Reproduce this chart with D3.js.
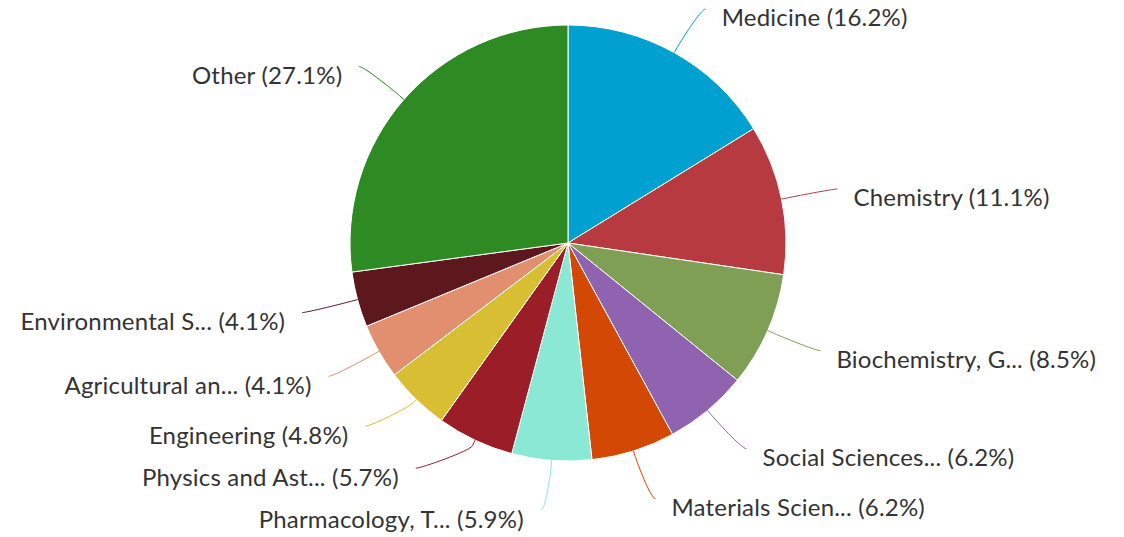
<!DOCTYPE html>
<html>
<head>
<meta charset="utf-8">
<script src="https://cdn.jsdelivr.net/npm/d3@7"></script>
<style>
  body { margin: 0; background: #fff; }
  text { font-family: Lato, "Open Sans", sans-serif; }
</style>
</head>
<body>
<svg id="chart" width="1124" height="537"></svg>
<script>
// Data
var categories = ["Medicine", "Chemistry", "Biochemistry, G...", "Social Sciences...", "Materials Scien...",
  "Pharmacology, T...", "Physics and Ast...", "Engineering", "Agricultural an...", "Environmental S...", "Other"];
var shares = [16.2, 11.1, 8.5, 6.2, 6.2, 5.9, 5.7, 4.8, 4.1, 4.1, 27.1];
var colors = ["#00a0d1", "#b83a41", "#7f9f55", "#9063b0", "#d34805", "#8ae8d5",
  "#9b1d28", "#d8be33", "#e18f6e", "#5c181c", "#2e8a22"];

// Layout
var width = 1124, height = 537;
var cx = 568, cy = 243, radius = 218;
var labelDistance = 50, breakDistance = 6, minGap = 42;

var svg = d3.select("#chart");

var pie = d3.pie().sort(null).value(function (d) { return d; });
var arcs = pie(shares);

var arc = d3.arc().innerRadius(0).outerRadius(radius);

var g = svg.append("g").attr("transform", "translate(" + cx + "," + cy + ")");

g.selectAll("path.slice")
  .data(arcs)
  .enter().append("path")
  .attr("class", "slice")
  .attr("d", arc)
  .attr("fill", function (d, i) { return colors[i]; })
  .attr("stroke", "#fff")
  .attr("stroke-width", 1);

//** Label placement, similar to the usual pie connector logic */
var R = radius + labelDistance;
var labels = arcs.map(function (d, i) {
  var a = (d.startAngle + d.endAngle) / 2;
  return {
    i: i,
    angle: a,
    left: a > Math.PI,
    y: -R * Math.cos(a)
  };
});

// push labels apart on the left side, bottom up
var leftSide = labels.filter(function (l) { return l.left; })
  .sort(function (a, b) { return b.y - a.y; });
for (var k = 1; k < leftSide.length; k++) {
  leftSide[k].y = Math.min(leftSide[k].y, leftSide[k - 1].y - minGap);
}
var rightSide = labels.filter(function (l) { return !l.left; })
  .sort(function (a, b) { return a.y - b.y; });
for (var k = 1; k < rightSide.length; k++) {
  rightSide[k].y = Math.max(rightSide[k].y, rightSide[k - 1].y + minGap);
}

function getX(y, left) {
  var s = Math.max(-1, Math.min(1, y / R));
  return (left ? -1 : 1) * Math.cos(Math.asin(s)) * R;
}

labels.forEach(function (l) {
  var dir = l.left ? -1 : 1;
  var gx = getX(l.y, l.left);
  l.endX = gx + dir * 7;
  l.textX = gx + dir * (l.left ? 24 : 23);
  var sa = Math.sin(l.angle), ca = Math.cos(l.angle);
  l.touch = [radius * sa, -radius * ca];
  l.brk = [(radius + breakDistance) * sa, -(radius + breakDistance) * ca];
});

g.selectAll("path.connector")
  .data(labels)
  .enter().append("path")
  .attr("class", "connector")
  .attr("fill", "none")
  .attr("stroke", function (l) { return colors[l.i]; })
  .attr("stroke-width", 1)
  .attr("d", function (l) {
    var p = d3.path();
    p.moveTo(l.endX, l.y);
    p.bezierCurveTo(l.endX + (l.left ? 5 : -5), l.y,
      2 * l.brk[0] - l.touch[0], 2 * l.brk[1] - l.touch[1],
      l.brk[0], l.brk[1]);
    p.lineTo(l.touch[0], l.touch[1]);
    return p.toString();
  });

g.selectAll("text.label")
  .data(labels)
  .enter().append("text")
  .attr("class", "label")
  .attr("x", function (l) { return l.textX; })
  .attr("y", function (l) { return l.y + 9; })
  .attr("dy", "0.35em")
  .attr("text-anchor", function (l) { return l.left ? "end" : "start"; })
  .attr("fill", "#333")
  .style("font-size", "24px")
  .style("letter-spacing", "0.2px")
  .text(function (l) { return categories[l.i] + " (" + shares[l.i].toFixed(1) + "%)"; });
</script>
</body>
</html>
